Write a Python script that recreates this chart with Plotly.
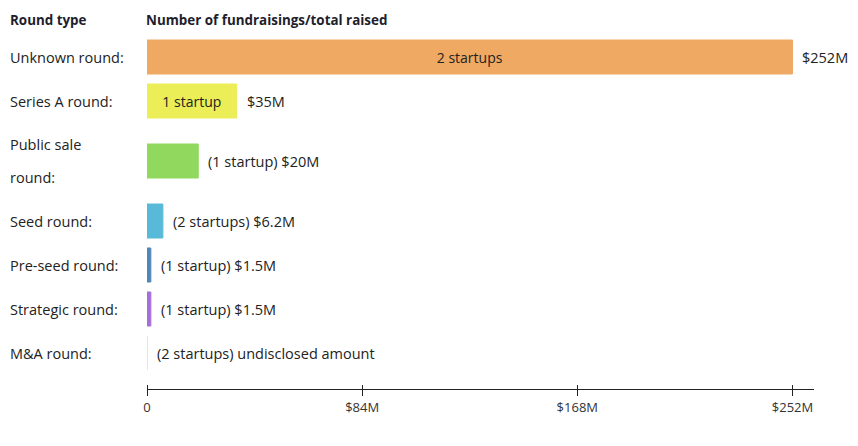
import plotly.graph_objects as go

# ---- data ----
categories = ["Unknown round:", "Series A round:", "Public sale<br>round:", "Seed round:",
              "Pre-seed round:", "Strategic round:", "M&A round:"]
amounts_m = [252, 35, 20, 6.2, 1.5, 1.5, 0]
startup_counts = [2, 1, 1, 2, 1, 1, 2]
amount_labels = ["$252M", "$35M", "$20M", "$6.2M", "$1.5M", "$1.5M", "undisclosed amount"]
count_inside = [True, True, False, False, False, False, False]
bar_colors = ["#F0A963", "#EBEE57", "#90D85E", "#58BAD8", "#4F87B9", "#A56FD9", "#FFFFFF"]
tick_vals = [0, 84, 168, 252]
tick_text = ["0", "$84M", "$168M", "$252M"]
header_left = "Round type"
header_right = "Number of fundraisings/total raised"

# ---- layout helpers (row positions in pixel-like units) ----
FONT = "Open Sans"
TXT = "#222222"
ROW_1 = 44
ROW_2 = 76
rows_h = [ROW_2 if "<br>" in c else ROW_1 for c in categories]
centers = []
acc = 0
for h in rows_h:
    centers.append(acc + h / 2)
    acc += h
total = acc + 14
PLOT_TOP = 35
PLOT_H = 446 - 57 - PLOT_TOP

def count_text(n):
    return f"{n} startup" + ("s" if n != 1 else "")

inside_text = [count_text(n) if f else "" for n, f in zip(startup_counts, count_inside)]
outside_text = [a if f else f"({count_text(n)}) {a}"
                for n, a, f in zip(startup_counts, amount_labels, count_inside)]
line_colors = [c if c != "#FFFFFF" else "#DDDDDD" for c in bar_colors]

fig = go.Figure()
fig.add_trace(go.Bar(
    x=amounts_m, y=centers, orientation="h", width=34,
    marker=dict(color=bar_colors, line=dict(color=line_colors, width=1)),
    text=inside_text, textposition="inside", insidetextanchor="middle",
    textfont=dict(family=FONT, size=14, color=TXT),
    hoverinfo="skip", showlegend=False,
))
fig.add_trace(go.Scatter(x=[0], y=[centers[0]], xaxis="x2", yaxis="y", mode="markers",
                         marker=dict(opacity=0), hoverinfo="skip", showlegend=False))

ann = []
for c, xv, t in zip(centers, amounts_m, outside_text):
    ann.append(dict(x=xv, y=c, xref="x", yref="y", text=t, showarrow=False,
                    xanchor="left", xshift=8, font=dict(family=FONT, size=14.5, color=TXT)))
for c, lab in zip(centers, categories):
    parts = lab.split("<br>")
    n = len(parts)
    for i, p in enumerate(parts):
        ann.append(dict(x=0, y=c + (i - (n - 1) / 2) * 33, xref="paper", yref="y", text=p,
                        showarrow=False, xanchor="left", xshift=-139,
                        font=dict(family=FONT, size=14.5, color=TXT)))
hy = 1 + 15 / PLOT_H
ann.append(dict(x=0, y=hy, xref="paper", yref="paper", text=f"<b>{header_left}</b>", showarrow=False,
                xanchor="left", yanchor="middle", xshift=-139,
                font=dict(family=FONT, size=13.4, color="#1E1E2D")))
ann.append(dict(x=0, y=hy, xref="paper", yref="paper", text=f"<b>{header_right}</b>", showarrow=False,
                xanchor="left", yanchor="middle", xshift=-3,
                font=dict(family=FONT, size=13.4, color="#1E1E2D")))

xr = [0, 260.4]
fig.update_layout(
    width=858, height=446,
    margin=dict(l=147, r=44, t=PLOT_TOP, b=57),
    paper_bgcolor="white", plot_bgcolor="white",
    annotations=ann,
    xaxis=dict(range=xr, tickvals=tick_vals, ticktext=tick_text, showgrid=False, zeroline=False,
               showline=True, linecolor="#222", linewidth=1, ticks="outside", ticklen=6,
               tickcolor="#222", tickwidth=1,
               tickfont=dict(family=FONT, size=13, color="#333"), fixedrange=True),
    xaxis2=dict(range=xr, overlaying="x", side="bottom", anchor="free", position=5 / PLOT_H,
                tickvals=tick_vals, showticklabels=False, showgrid=False, zeroline=False,
                showline=False, ticks="outside", ticklen=5, tickcolor="#222", tickwidth=1,
                fixedrange=True),
    yaxis=dict(range=[total, 0], showticklabels=False, showgrid=False, zeroline=False,
               showline=False, ticks="", fixedrange=True),
)
fig.write_html("out.html", config={"displayModeBar": False},
               post_script="document.body.style.margin='0';")
